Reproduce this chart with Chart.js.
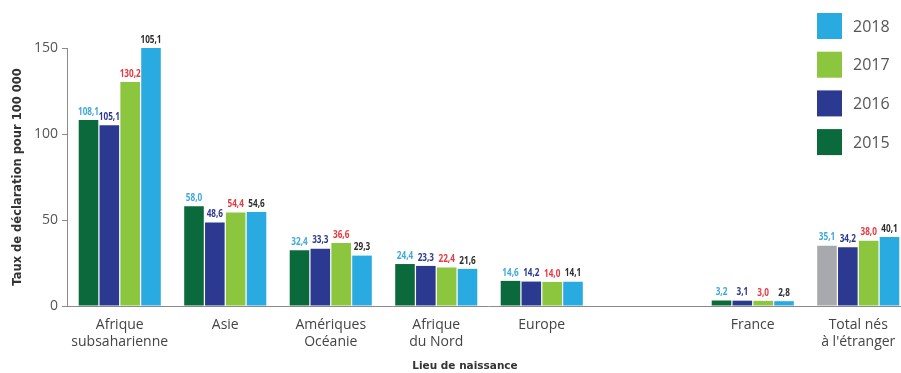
<!DOCTYPE html>
<html>
<head>
<meta charset="utf-8">
<script src="https://cdn.jsdelivr.net/npm/chart.js@4"></script>
<style>
  html, body { margin: 0; padding: 0; background: #fff; overflow: hidden; }
  #wrap { width: 911px; height: 373px; }
</style>
</head>
<body>
<div id="wrap"><canvas id="chart"></canvas></div>
<script>
// --- Données ---
const categories = [
    ['Afrique', 'subsaharienne'],
    'Asie',
    ['Amériques', 'Océanie'],
    ['Afrique', 'du Nord'],
    'Europe',
    '',
    'France',
    ['Total nés', 'à l\'étranger']
];
const years = ['2015', '2016', '2017', '2018'];

// hauteurs des barres
const values2015 = [108.1, 58.0, 32.4, 24.4, 14.6, null, 3.2, 35.1];
const values2016 = [105.1, 48.6, 33.3, 23.3, 14.2, null, 3.1, 34.2];
const values2017 = [130.2, 54.4, 36.6, 22.4, 14.0, null, 3.0, 38.0];
const values2018 = [150.0, 54.6, 29.3, 21.6, 14.1, null, 2.8, 40.1];

// valeurs imprimées au-dessus des barres (telles qu'affichées)
const labels2015 = ['108,1', '58,0', '32,4', '24,4', '14,6', '', '3,2', '35,1'];
const labels2016 = ['105,1', '48,6', '33,3', '23,3', '14,2', '', '3,1', '34,2'];
const labels2017 = ['130,2', '54,4', '36,6', '22,4', '14,0', '', '3,0', '38,0'];
const labels2018 = ['105,1', '54,6', '29,3', '21,6', '14,1', '', '2,8', '40,1'];

const yTicks = [0, 50, 100, 150];
const xTitle = 'Lieu de naissance';

// --- Couleurs ---
const barColors = ['#0b6a3b', '#2b3990', '#8cc63f', '#29abe2'];
const labelColors = ['#3fa9dd', '#2b3990', '#e8383f', '#2d2d2d'];
const totalGrey = '#a7a9ac';

const allValues = [values2015, values2016, values2017, values2018];
const allLabels = [labels2015, labels2016, labels2017, labels2018];

const datasets = years.map((year, i) => ({
    label: year,
    data: allValues[i],
    valueLabels: allLabels[i],
    labelColor: labelColors[i],
    // la barre 2015 du total est grise
    backgroundColor: i === 0
        ? categories.map((c, k) => k === categories.length - 1 ? totalGrey : barColors[0])
        : barColors[i],
    legendColor: barColors[i],
    categoryPercentage: 0.79,
    barPercentage: 0.94
}));

// --- Étiquettes de valeur au-dessus des barres (police condensée) ---
const valueLabelPlugin = {
    id: 'valueLabels',
    afterDatasetsDraw(chart) {
        const ctx = chart.ctx;
        const squeeze = 0.78;
        ctx.save();
        ctx.font = '700 10.5px "Open Sans", sans-serif';
        ctx.textAlign = 'center';
        ctx.textBaseline = 'bottom';
        chart.data.datasets.forEach((ds, i) => {
            const meta = chart.getDatasetMeta(i);
            ctx.fillStyle = ds.labelColor;
            meta.data.forEach((bar, k) => {
                const txt = ds.valueLabels[k];
                if (!txt) return;
                ctx.save();
                ctx.translate(bar.x, bar.y - 3);
                ctx.scale(squeeze, 1);
                ctx.fillText(txt, 0, 0);
                ctx.restore();
            });
        });
        ctx.restore();
    }
};

// --- Légende à droite (ordre inversé) et titre de l'axe X ---
const sideLegendPlugin = {
    id: 'sideLegend',
    afterDraw(chart) {
        const ctx = chart.ctx;
        ctx.save();
        ctx.font = '16px "Open Sans", sans-serif';
        ctx.textBaseline = 'middle';
        const items = chart.data.datasets.slice().reverse();
        items.forEach((ds, n) => {
            const y = 13 + n * 38.7;
            ctx.fillStyle = ds.legendColor;
            ctx.fillRect(817, y, 25, 26);
            ctx.fillStyle = '#555';
            ctx.fillText(ds.label, 853, y + 14);
        });

        // titre de l'axe X, centré comme dans l'original
        ctx.font = 'bold 10.5px "DejaVu Sans", sans-serif';
        ctx.textAlign = 'center';
        ctx.fillStyle = '#333';
        ctx.fillText(xTitle, 465, chart.height - 7);
        ctx.restore();
    }
};

new Chart(document.getElementById('chart'), {
    type: 'bar',
    data: { labels: categories, datasets: datasets },
    plugins: [valueLabelPlugin, sideLegendPlugin],
    options: {
        responsive: true,
        maintainAspectRatio: false,
        animation: false,
        layout: { padding: { top: 48, right: 0, left: 0, bottom: 0 } },
        plugins: {
            legend: { display: false },
            tooltip: { enabled: false }
        },
        scales: {
            x: {
                grid: { display: false },
                border: { color: '#8a8a8a', width: 1 },
                ticks: {
                    color: '#444',
                    font: { family: '"Open Sans", sans-serif', size: 14 },
                    padding: 3,
                    maxRotation: 0,
                    autoSkip: false
                },
                afterFit(scale) { scale.height = 67; }
            },
            y: {
                min: 0,
                max: 150,
                afterBuildTicks(scale) { scale.ticks = yTicks.map(v => ({ value: v })); },
                grid: { drawOnChartArea: false, drawTicks: true, tickLength: 5, color: '#8a8a8a' },
                border: { color: '#8a8a8a', width: 1 },
                ticks: {
                    color: '#555',
                    font: { family: '"Open Sans", sans-serif', size: 14 },
                    padding: 4
                },
                title: {
                    display: true,
                    text: 'Taux de déclaration pour 100 000',
                    color: '#333',
                    font: { family: '"DejaVu Sans", sans-serif', size: 11.5, weight: 'bold' },
                    padding: { top: 11, bottom: 0 }
                },
                afterFit(scale) { scale.width = 67; }
            }
        }
    }
});
</script>
</body>
</html>
